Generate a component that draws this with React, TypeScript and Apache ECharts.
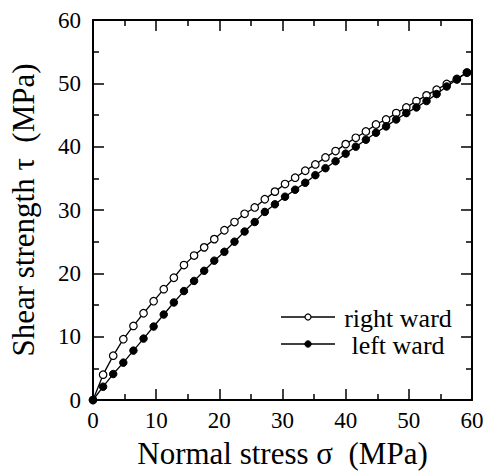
import React, { useEffect, useRef } from "react";
import * as echarts from "echarts";

const sigma = [0, 1.6, 3.2, 4.8, 6.4, 8.0, 9.6, 11.2, 12.8, 14.4, 16.0, 17.6, 19.2, 20.8, 22.4, 24.0, 25.6, 27.2, 28.8, 30.4, 32.0, 33.6, 35.2, 36.8, 38.4, 40.0, 41.6, 43.2, 44.8, 46.4, 48.0, 49.6, 51.2, 52.8, 54.4, 56.0, 57.6, 59.2];
const rightWard = [0, 4.0, 7.0, 9.6, 11.7, 13.7, 15.6, 17.5, 19.3, 21.3, 22.8, 24.1, 25.4, 26.8, 28.1, 29.4, 30.4, 31.7, 32.9, 34.1, 35.1, 36.2, 37.2, 38.3, 39.3, 40.4, 41.4, 42.4, 43.5, 44.3, 45.3, 46.2, 47.2, 48.1, 49.0, 49.9, 50.7, 51.7];
const leftWard = [0, 2.1, 4.1, 5.9, 7.8, 9.7, 11.6, 13.5, 15.4, 17.2, 18.8, 20.4, 22.0, 23.4, 25.0, 26.6, 28.1, 29.7, 30.9, 32.1, 33.2, 34.3, 35.5, 36.6, 37.7, 38.9, 40.0, 41.1, 42.2, 43.2, 44.3, 45.3, 46.2, 47.2, 48.3, 49.5, 50.6, 51.7];
const seriesNames = ["right ward", "left ward"];
const xTitle = "Normal stress σ  (MPa)";
const yTitle = "Shear strength τ  (MPa)";

const FONT = "Times New Roman, Liberation Serif, DejaVu Serif, serif";

export default function App() {
  const ref = useRef<HTMLDivElement>(null);
  useEffect(() => {
    if (!ref.current) return;
    const chart = echarts.init(ref.current, null, { renderer: "svg" });
    const axisCommon = {
      type: "value",
      min: 0,
      max: 60,
      interval: 10,
      axisLine: { show: true, onZero: false, lineStyle: { color: "#000", width: 2 } },
      axisTick: { show: true, inside: true, length: 11, lineStyle: { color: "#000", width: 1.5 } },
      minorTick: { show: true, splitNumber: 2, length: 6, lineStyle: { color: "#000", width: 1.5 } },
      splitLine: { show: false },
    };
    const mk = (vals: number[]) => sigma.map((s, i) => [s, vals[i]]);
    chart.setOption({
      animation: false,
      backgroundColor: "#fff",
      textStyle: { fontFamily: FONT },
      grid: { left: 91, right: 15, top: 20, bottom: 74, containLabel: false },
      xAxis: [
        {
          ...axisCommon,
          position: "bottom",
          name: xTitle,
          nameLocation: "middle",
          nameGap: 38,
          nameTextStyle: { fontFamily: FONT, fontSize: 31, color: "#000" },
          axisLabel: { fontFamily: FONT, fontSize: 23, color: "#000", margin: 9 },
        },
        { ...axisCommon, position: "top", axisLabel: { show: false } },
      ],
      yAxis: [
        {
          ...axisCommon,
          position: "left",
          name: yTitle,
          nameLocation: "middle",
          nameGap: 54,
          nameTextStyle: { fontFamily: FONT, fontSize: 31, color: "#000" },
          axisLabel: { fontFamily: FONT, fontSize: 23, color: "#000", margin: 12 },
        },
        { ...axisCommon, position: "right", axisLabel: { show: false } },
      ],
      series: [
        {
          name: seriesNames[0],
          type: "line",
          data: mk(rightWard),
          symbol: "circle",
          symbolSize: 7.5,
          lineStyle: { color: "#000", width: 1.3 },
          itemStyle: { color: "#fff", borderColor: "#000", borderWidth: 1.2 },
          z: 3,
        },
        {
          name: seriesNames[1],
          type: "line",
          data: mk(leftWard),
          symbol: "circle",
          symbolSize: 7.5,
          lineStyle: { color: "#000", width: 1.3 },
          itemStyle: { color: "#000", borderColor: "#000", borderWidth: 1 },
          z: 4,
        },
      ],
      graphic: [
        { type: "line", shape: { x1: 281, y1: 317, x2: 335, y2: 317 }, style: { stroke: "#000", lineWidth: 1.3 } },
        { type: "circle", shape: { cx: 308, cy: 317, r: 3 }, style: { fill: "#fff", stroke: "#000", lineWidth: 1.2 } },
        { type: "text", x: 398, y: 318, style: { text: seriesNames[0], fontFamily: FONT, fontSize: 26, fill: "#000", align: "center", verticalAlign: "middle" } },
        { type: "line", shape: { x1: 281, y1: 344, x2: 335, y2: 344 }, style: { stroke: "#000", lineWidth: 1.3 } },
        { type: "circle", shape: { cx: 308, cy: 344, r: 3.2 }, style: { fill: "#000", stroke: "#000", lineWidth: 1 } },
        { type: "text", x: 398, y: 345, style: { text: seriesNames[1], fontFamily: FONT, fontSize: 26, fill: "#000", align: "center", verticalAlign: "middle" } },
      ],
    });
    return () => chart.dispose();
  }, []);
  return <div ref={ref} style={{ width: 487, height: 474, position: "absolute", left: 0, top: 0 }} />;
}
